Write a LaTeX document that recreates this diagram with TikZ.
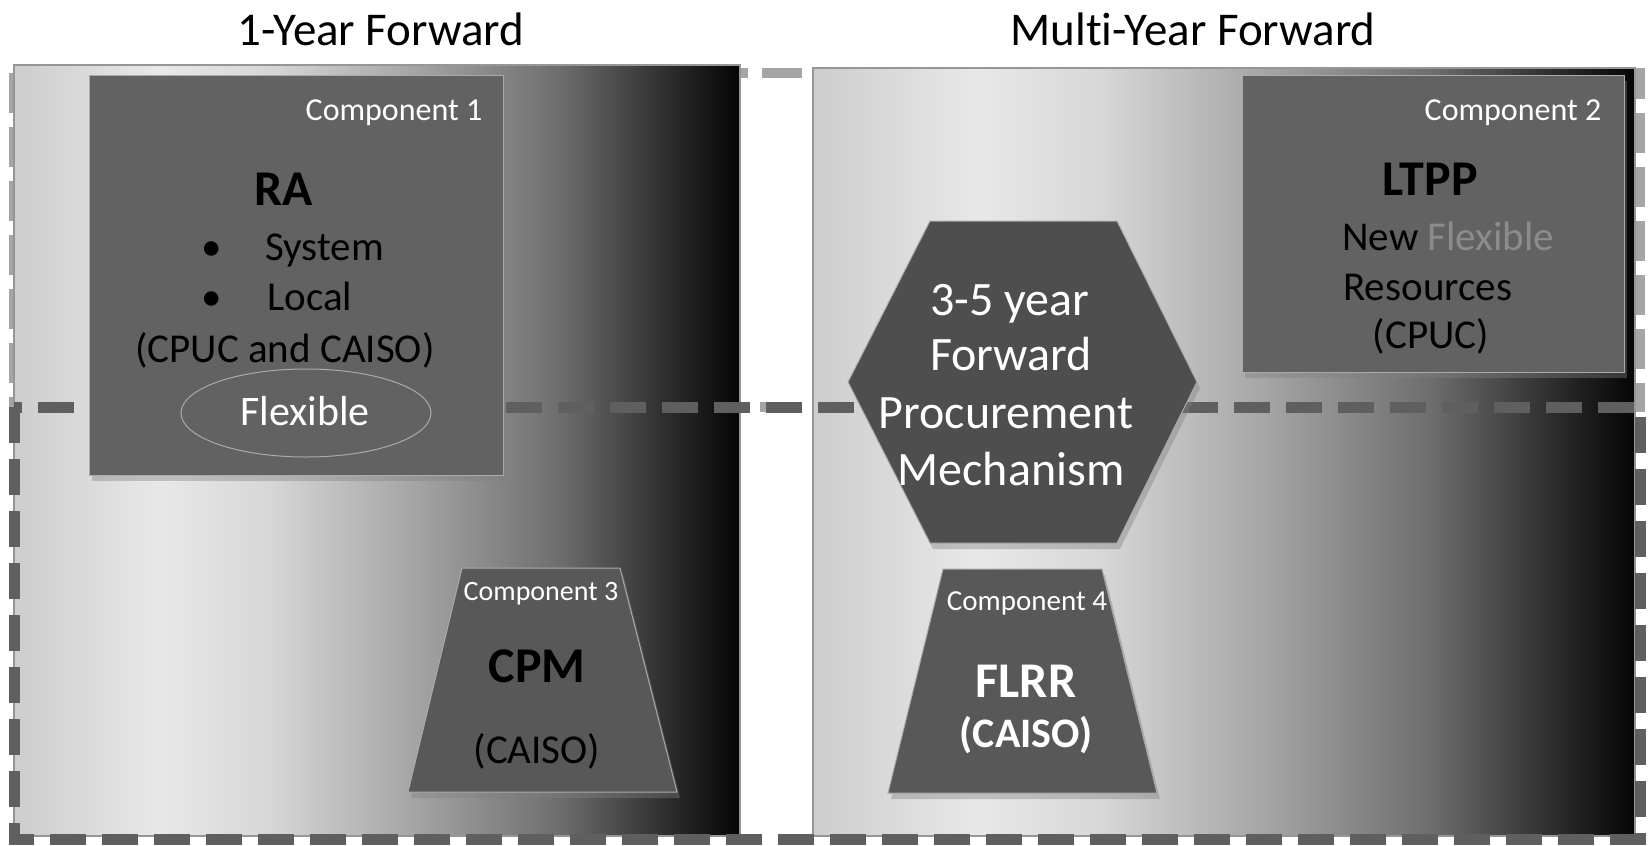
\documentclass[tikz,border=0pt]{standalone}
\usepackage{fontspec}
\setmainfont{Carlito}[Ligatures=NoCommon]
\usetikzlibrary{shadows}
\definecolor{sA}{RGB}{205,205,205}
\definecolor{sB}{RGB}{232,232,232}
\definecolor{sC}{RGB}{215,215,215}
\definecolor{sD}{RGB}{165,165,165}
\definecolor{sE}{RGB}{110,110,110}
\definecolor{sG}{RGB}{45,45,45}
\definecolor{sF}{RGB}{5,5,5}
\definecolor{boxgray}{RGB}{98,98,98}
\definecolor{hexgray}{RGB}{78,78,78}
\definecolor{trapgray}{RGB}{88,88,88}
\definecolor{edgegray}{RGB}{170,170,170}
\definecolor{dashlight}{RGB}{165,165,165}
\definecolor{dashdark}{RGB}{95,95,95}
\definecolor{flexgray}{RGB}{140,140,140}
\definecolor{paneledge}{RGB}{150,150,150}
\pgfdeclarehorizontalshading{panelshade}{100bp}{color(0bp)=(sA); color(25bp)=(sA); color(35bp)=(sB); color(42.5bp)=(sC); color(52.5bp)=(sD); color(62.5bp)=(sE); color(70bp)=(sG); color(75bp)=(sF); color(100bp)=(sF)}
\newcommand{\myfs}[1]{\fontsize{#1}{#1}\selectfont}
\begin{document}
\begin{tikzpicture}[x=0.5pt,y=-0.5pt,
  lbl/.style={inner sep=0pt, anchor=base},
  panel/.style={shade, shading=panelshade, draw=paneledge, line width=0.8pt},
  shapebox/.style={draw=edgegray, line width=0.5pt, drop shadow={opacity=0.4, shadow xshift=1.5pt, shadow yshift=-3pt}},
  toprow/.style={dashlight, line width=5pt, dash pattern=on 20pt off 7pt},
  botrow/.style={dashdark, line width=5.5pt, dash pattern=on 18pt off 8pt},
  title/.style={lbl, font=\myfs{23.5pt}},
  body/.style={lbl, font=\myfs{20.5pt}},
  big/.style={lbl, font=\bfseries\myfs{25pt}},
  hextext/.style={lbl, white, font=\myfs{24pt}}
]
\useasboundingbox (0,0) rectangle (1650,846);

% titles
\node[title] (t1) at (381,45) {1-Year Forward};
\node[title] (t2) at (1193,45) {Multi-Year Forward};

% top row dashed frame (behind the panels)
\draw[toprow] (14,73) rectangle (1640,407);

% panels
\path[panel] (14,65) rectangle (740,836);
\path[panel] (813,68) rectangle (1635,836);

% bottom row dashed frame (over the panels)
\draw[botrow] (14,407) rectangle (1640,839);

% Component 1: RA box
\path[shapebox, fill=boxgray] (89,75) rectangle (503,475);
\node[lbl, white, font=\myfs{16pt}] (c1) at (394,120) {Component 1};
\node[big] (ra) at (284,205) {RA};
\node[body] (b1) at (212,260) {•};
\node[body, anchor=base west] (sys) at (265,260) {System};
\node[body] (b2) at (212,310) {•};
\node[body, anchor=base west] (loc) at (267,310) {Local};
\node[body] (cc) at (285,362) {(CPUC and CAISO)};
\path[draw=edgegray, line width=0.5pt, fill=boxgray] (306,413) ellipse [x radius=125, y radius=44];
\node[lbl, white, font=\myfs{21pt}] (flex) at (305,425) {Flexible};

% Component 2: LTPP box
\path[shapebox, fill=boxgray] (1242,75) rectangle (1624,372);
\node[lbl, white, font=\myfs{16pt}] (c2) at (1513,120) {Component 2};
\node[big] (ltpp) at (1430,195) {LTPP};
\node[body, anchor=base west] (nf) at (1342,250) {New {\color{flexgray}Flexible}};
\node[body, anchor=base west] (res) at (1343,300) {Resources};
\node[body] (cpuc) at (1431,348) {(CPUC)};

% hexagon
\path[shapebox, fill=hexgray] (930,221) -- (1117,221) -- (1197,382) -- (1117,543) -- (930,543) -- (848,382) -- cycle;
\node[hextext] (h1) at (1010,315) {3-5 year};
\node[hextext] (h2) at (1011,370) {Forward};
\node[hextext] (h3) at (1006,428) {Procurement};
\node[hextext] (h4) at (1011,485) {Mechanism};

% Component 3: CPM
\path[shapebox, fill=trapgray] (462,568) -- (620,568) -- (677,792) -- (408,792) -- cycle;
\node[lbl, white, font=\myfs{14pt}] (c3) at (541,600) {Component 3};
\node[big] (cpm) at (537,682) {CPM};
\node[body] (caiso1) at (537,763) {(CAISO)};

% Component 4: FLRR
\path[shapebox, fill=trapgray] (943,569) -- (1102,569) -- (1157,793) -- (888,793) -- cycle;
\node[lbl, white, font=\myfs{14.5pt}] (c4) at (1027,610) {Component 4};
\node[big, white] (flrr) at (1026,697) {FLRR};
\node[lbl, white, font=\bfseries\myfs{21pt}] (caiso2) at (1026,747) {(CAISO)};
\end{tikzpicture}
\end{document}
